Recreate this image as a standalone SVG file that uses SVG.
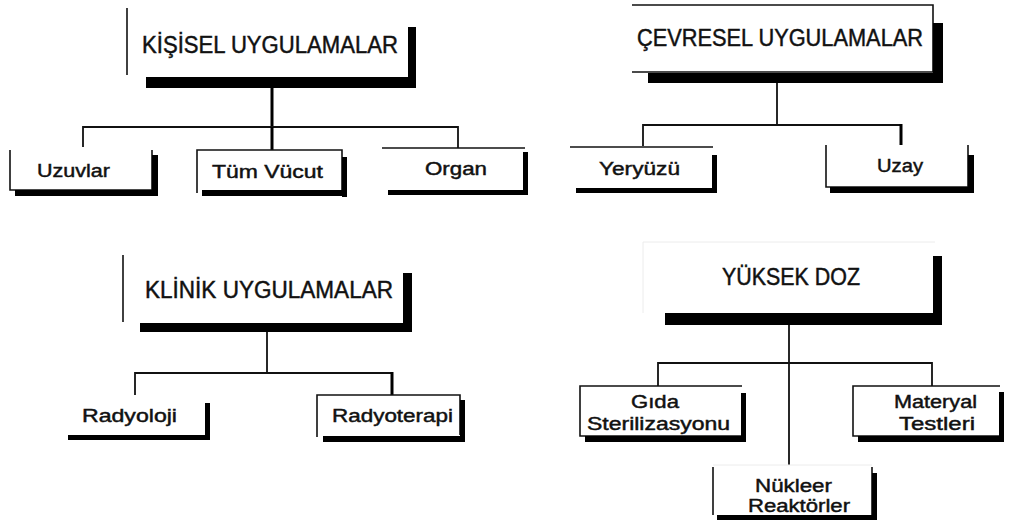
<svg xmlns="http://www.w3.org/2000/svg" width="1011" height="524" viewBox="0 0 1011 524">
<style>
.thin{stroke:#111;stroke-width:1.6;fill:none}
.faint{stroke:#ececec;stroke-width:1;fill:none}
.sh{fill:#000}
.con{stroke:#111;stroke-width:1.8;fill:none}
.conb{stroke:#000;stroke-width:3;fill:none}
text{font-family:"Liberation Sans",Arial,sans-serif;fill:#111;stroke:#111;stroke-width:0.45}
.h{font-size:23px}
.c{font-size:18px}
.m{text-anchor:middle}
</style>
<rect width="1011" height="524" fill="#fff"/>
<g id="connectors">
  <path class="conb" d="M272,88 V127"/>
  <path class="con" d="M83,147 V127 H458 V148"/>
  <path class="conb" d="M272,127 V150"/>
  <path class="con" d="M777,83 V125"/>
  <path class="con" d="M643,146 V125 H901"/>
  <path class="conb" d="M901,124 V145"/>
  <path class="con" d="M267,332 V373"/>
  <path class="con" d="M135,395 V373 H392"/>
  <path class="conb" d="M392,372 V395"/>
  <path class="con" d="M789,325 V465"/>
  <path class="con" d="M658,386 V363 H932 V386"/>
</g>
<g id="kisisel">
  <path class="thin" d="M127,8 V75"/>
  <rect class="sh" x="408" y="27" width="8" height="61"/>
  <rect class="sh" x="146" y="77" width="270" height="11"/>
  <text class="h" x="142" y="53" textLength="256" lengthAdjust="spacingAndGlyphs">KİŞİSEL UYGULAMALAR</text>
</g>
<g id="uzuvlar">
  <path class="thin" d="M10,150 V190 H152 V150"/>
  <rect class="sh" x="152" y="155" width="6" height="41"/>
  <rect class="sh" x="15" y="190" width="143" height="6"/>
  <text class="c" x="37" y="177" textLength="73" lengthAdjust="spacingAndGlyphs">Uzuvlar</text>
</g>
<g id="tumvucut">
  <path class="thin" d="M197,193 V150 H342 V190"/>
  <rect class="sh" x="342" y="157" width="5" height="40"/>
  <rect class="sh" x="202" y="190" width="145" height="6"/>
  <text class="c" x="212" y="178" textLength="111" lengthAdjust="spacingAndGlyphs">Tüm Vücut</text>
</g>
<g id="organ">
  <path class="thin" d="M382,148 H525"/>
  <rect class="sh" x="523" y="152" width="5" height="43"/>
  <rect class="sh" x="388" y="190" width="140" height="5"/>
  <text class="c" x="425" y="175" textLength="62" lengthAdjust="spacingAndGlyphs">Organ</text>
</g>
<g id="cevresel">
  <path class="thin" d="M632,5 H933 V72 H632"/>
  <rect class="sh" x="933" y="23" width="10" height="60"/>
  <rect class="sh" x="648" y="73" width="295" height="10"/>
  <text class="h" x="637" y="46" textLength="286" lengthAdjust="spacingAndGlyphs">ÇEVRESEL UYGULAMALAR</text>
</g>
<g id="yeryuzu">
  <path class="thin" d="M570,147 H713"/>
  <rect class="sh" x="712" y="155" width="5" height="38"/>
  <rect class="sh" x="576" y="188" width="141" height="5"/>
  <text class="c" x="599" y="175" textLength="81" lengthAdjust="spacingAndGlyphs">Yeryüzü</text>
</g>
<g id="uzay">
  <path class="thin" d="M826,145 V187 H968 V145"/>
  <rect class="sh" x="968" y="155" width="6" height="38"/>
  <rect class="sh" x="830" y="187" width="144" height="6"/>
  <text class="c" x="877" y="172" textLength="46" lengthAdjust="spacingAndGlyphs">Uzay</text>
</g>
<g id="klinik">
  <path class="thin" d="M123,255 V322"/>
  <rect class="sh" x="403" y="273" width="9" height="59"/>
  <rect class="sh" x="140" y="323" width="272" height="9"/>
  <text class="h" x="145" y="298" textLength="248" lengthAdjust="spacingAndGlyphs">KLİNİK UYGULAMALAR</text>
</g>
<g id="radyoloji">
  <rect class="sh" x="205" y="403" width="5" height="37"/>
  <rect class="sh" x="68" y="435" width="142" height="5"/>
  <text class="c" x="82" y="422" textLength="95" lengthAdjust="spacingAndGlyphs">Radyoloji</text>
</g>
<g id="radyoterapi">
  <path class="thin" d="M317,437 V395 H460 V435"/>
  <rect class="sh" x="460" y="400" width="5" height="42"/>
  <rect class="sh" x="323" y="436" width="142" height="6"/>
  <text class="c" x="332" y="422" textLength="121" lengthAdjust="spacingAndGlyphs">Radyoterapi</text>
</g>
<g id="yuksekdoz">
  <path class="faint" d="M643,313 V242 H935"/>
  <rect class="sh" x="933" y="256" width="9" height="69"/>
  <rect class="sh" x="665" y="313" width="277" height="12"/>
  <text class="h" x="722" y="285" textLength="138" lengthAdjust="spacingAndGlyphs">YÜKSEK DOZ</text>
</g>
<g id="gida">
  <path class="thin" d="M742,386 H580 V436 H742"/>
  <rect class="sh" x="741" y="393" width="5" height="49"/>
  <rect class="sh" x="585" y="436" width="161" height="6"/>
  <text class="c m" x="655" y="408" textLength="48" lengthAdjust="spacingAndGlyphs">Gıda</text>
  <text class="c" x="587" y="430" textLength="143" lengthAdjust="spacingAndGlyphs">Sterilizasyonu</text>
</g>
<g id="materyal">
  <path class="thin" d="M1000,386 H853 V436 H1000"/>
  <rect class="sh" x="999" y="392" width="5" height="50"/>
  <rect class="sh" x="858" y="436" width="146" height="6"/>
  <text class="c" x="894" y="408" textLength="83" lengthAdjust="spacingAndGlyphs">Materyal</text>
  <text class="c" x="899" y="430" textLength="76" lengthAdjust="spacingAndGlyphs">Testleri</text>
</g>
<g id="nukleer">
  <path class="faint" d="M713,465 H872"/>
  <path class="thin" d="M713,467 V515 M872,467 V515"/>
  <rect class="sh" x="872" y="473" width="5" height="47"/>
  <rect class="sh" x="717" y="515" width="160" height="5"/>
  <text class="c" x="755" y="492" textLength="77" lengthAdjust="spacingAndGlyphs">Nükleer</text>
  <text class="c" x="748" y="512" textLength="102" lengthAdjust="spacingAndGlyphs">Reaktörler</text>
</g>
</svg>
